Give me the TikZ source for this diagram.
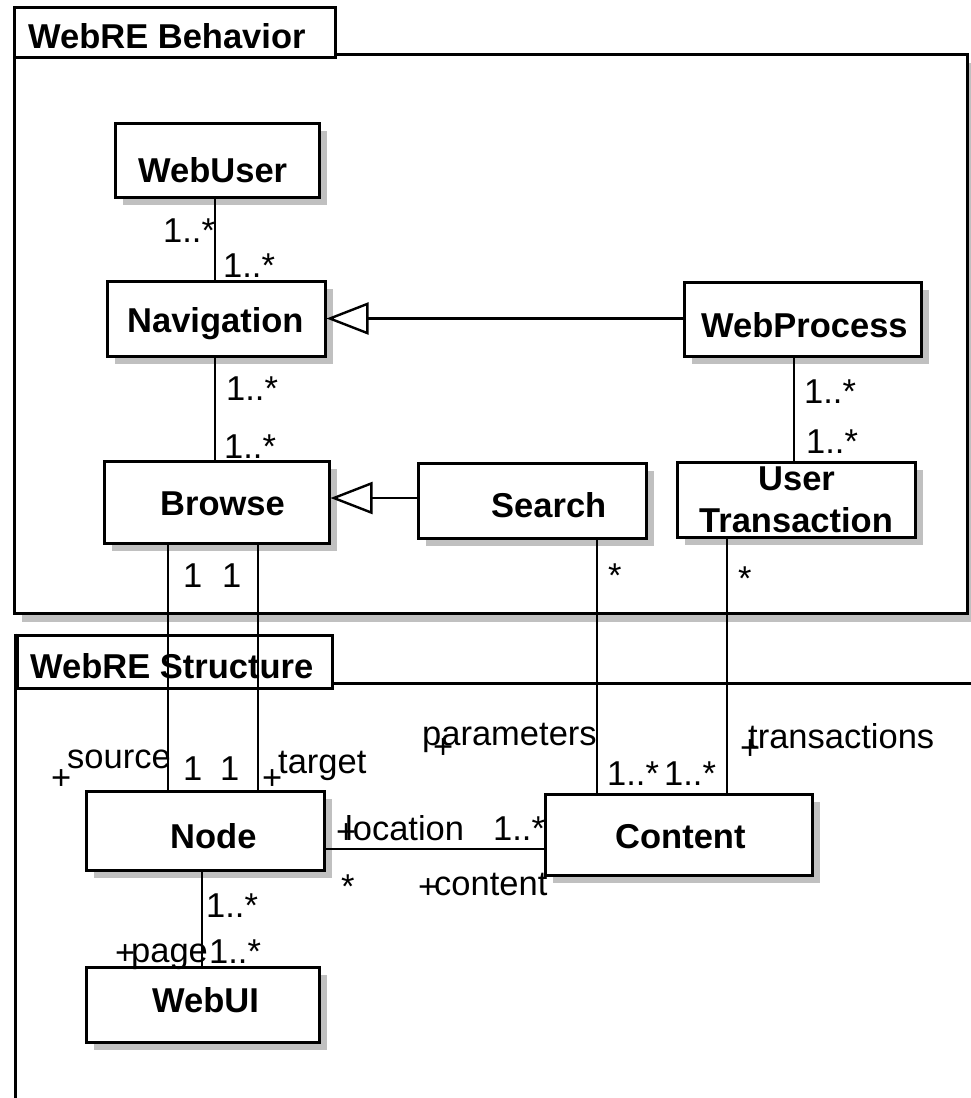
\documentclass[tikz,border=0pt]{standalone}
\usepackage{fontspec}
\setmainfont{Liberation Sans}
\usetikzlibrary{arrows.meta,shadows}
\definecolor{shadowgray}{HTML}{C0C0C0}
\begin{document}
\begin{tikzpicture}[x=1pt,y=-1pt,
  cls/.style={draw, line width=3pt, fill=white, inner sep=0pt,
    drop shadow={shadow xshift=8pt, shadow yshift=-8pt, fill=shadowgray, opacity=1}},
  pkgbody/.style={draw, line width=3pt, fill=white, inner sep=0pt,
    drop shadow={shadow xshift=8pt, shadow yshift=-9pt, fill=shadowgray, opacity=1}},
  pkgtab/.style={draw, line width=3pt, fill=white, inner sep=0pt},
  pkgline/.style={line width=3pt},
  clsname/.style={font=\bfseries\fontsize{34.5}{40}\selectfont, anchor=base west, inner sep=0pt},
  lbl/.style={font=\fontsize{34.5}{40}\selectfont, anchor=base west, inner sep=0pt},
  conn/.style={line width=2.4pt},
  gen/.style={conn, -{Triangle[open, length=42pt, width=32pt, line width=2.4pt]}}
]
\useasboundingbox[fill=white] (0,0) rectangle (970,1098);

% ---------- packages ----------
\node[pkgbody, minimum width=953pt, minimum height=559pt] (behav) at (490.5,333.5) {};
\node[pkgtab, minimum width=321pt, minimum height=50pt] (behavtab) at (174.5,32) {};
\node[clsname] (behavT) at (28,48) {WebRE Behavior};

\node[pkgtab, minimum width=315pt, minimum height=53pt] (structtab) at (174.5,661.5) {};
\coordinate (sbl) at (17,1110);
\coordinate (str) at (980,683);
\draw[pkgline] (structtab.north west) -- (structtab.north west |- sbl);
\draw[pkgline] (structtab.south east |- str) -- (str);
\node[clsname] (structT) at (30,678) {WebRE Structure};

% ---------- classes ----------
\node[cls, minimum width=204pt, minimum height=74pt] (webuser) at (217,160) {};
\node[clsname] (webuserT) at (138,182) {WebUser};

\node[cls, minimum width=218pt, minimum height=75pt] (navigation) at (216,318.5) {};
\node[clsname] (navigationT) at (127,332) {Navigation};

\node[cls, minimum width=237pt, minimum height=74pt] (webprocess) at (802.5,319) {};
\node[clsname] (webprocessT) at (701,337) {WebProcess};

\node[cls, minimum width=225pt, minimum height=82pt] (browse) at (216.5,502) {};
\node[clsname] (browseT) at (160,515) {Browse};

\node[cls, minimum width=228pt, minimum height=75pt] (search) at (532,500.5) {};
\node[clsname] (searchT) at (491,517) {Search};

\node[cls, minimum width=238pt, minimum height=75pt] (usertrans) at (796,499.5) {};
\node[clsname] (usertransT1) at (758,490) {User};
\node[clsname] (usertransT2) at (699,532) {Transaction};

\node[cls, minimum width=238pt, minimum height=79pt] (node) at (205,830.5) {};
\node[clsname] (nodeT) at (170,848) {Node};

\node[cls, minimum width=267pt, minimum height=81pt] (content) at (678.5,834.5) {};
\node[clsname] (contentT) at (615,848) {Content};

\node[cls, minimum width=233pt, minimum height=75pt] (webui) at (202.5,1004.5) {};
\node[clsname] (webuiT) at (152,1012) {WebUI};

% ---------- connectors ----------
\draw[conn] ([xshift=-2pt]webuser.south) -- ([xshift=-2pt]webuser.south |- navigation.north);
\draw[conn] ([xshift=-1pt]navigation.south) -- ([xshift=-1pt]navigation.south |- browse.north);
\draw[conn] ([xshift=-8.5pt]webprocess.south) -- ([xshift=-8.5pt]webprocess.south |- usertrans.north);

\draw[gen] (navigation.east -| webprocess.west) -- (navigation.east);
\coordinate (bt) at ([yshift=4pt]browse.east);
\draw[gen] (search.west |- bt) -- (bt);

\draw[conn] ([xshift=-48.5pt]browse.south) -- ([xshift=-48.5pt]browse.south |- node.north);
\draw[conn] ([xshift=41.5pt]browse.south) -- ([xshift=41.5pt]browse.south |- node.north);
\draw[conn] ([xshift=65pt]search.south) -- ([xshift=65pt]search.south |- content.north);
\draw[conn] ([xshift=-69pt]usertrans.south) -- ([xshift=-69pt]usertrans.south |- content.north);
\coordinate (nc) at ([yshift=-18.5pt]node.east);
\draw[conn] (nc) -- (nc -| content.west);
\draw[conn] ([xshift=-3pt]node.south) -- ([xshift=-3pt]node.south |- webui.north);

% ---------- labels ----------
\node[lbl] (m1) at (163,242) {1..*};
\node[lbl] (m2) at (223,277) {1..*};
\node[lbl] (m3) at (226,400) {1..*};
\node[lbl] (m4) at (224,458) {1..*};
\node[lbl] (m5) at (804,403) {1..*};
\node[lbl] (m6) at (806,453) {1..*};

\node[lbl] (m7) at (183,587) {1};
\node[lbl] (m8) at (222,587) {1};
\node[lbl] (m9) at (183,780) {1};
\node[lbl] (m10) at (220,780) {1};

\node[lbl] (r1) at (67,768) {source};
\node[lbl] (p1) at (51,789) {+};
\node[lbl] (r2) at (278,773) {target};
\node[lbl] (p2) at (262,789) {+};

\node[lbl] (r3) at (422,745) {parameters};
\node[lbl] (p3) at (433,758) {+};
\node[lbl] (r4) at (748,748) {transactions};
\node[lbl] (p4) at (740,759) {+};

\node[lbl] (m11) at (607,785) {1..*};
\node[lbl] (m12) at (664,785) {1..*};

\node[lbl] (p5) at (336,843) {+};
\node[lbl] (r5) at (345,840) {location};
\node[lbl] (m13) at (493,840) {1..*};
\node[lbl] (m14) at (341,898) {*};
\node[lbl] (p6) at (418,898) {+};
\node[lbl] (r6) at (434,895) {content};

\node[lbl] (m15) at (608,587) {*};
\node[lbl] (m16) at (738,590) {*};

\node[lbl] (m17) at (206,917) {1..*};
\node[lbl] (m18) at (209,963) {1..*};
\node[lbl] (p7) at (115,964) {+};
\node[lbl] (r7) at (131,962) {page};
\end{tikzpicture}
\end{document}
